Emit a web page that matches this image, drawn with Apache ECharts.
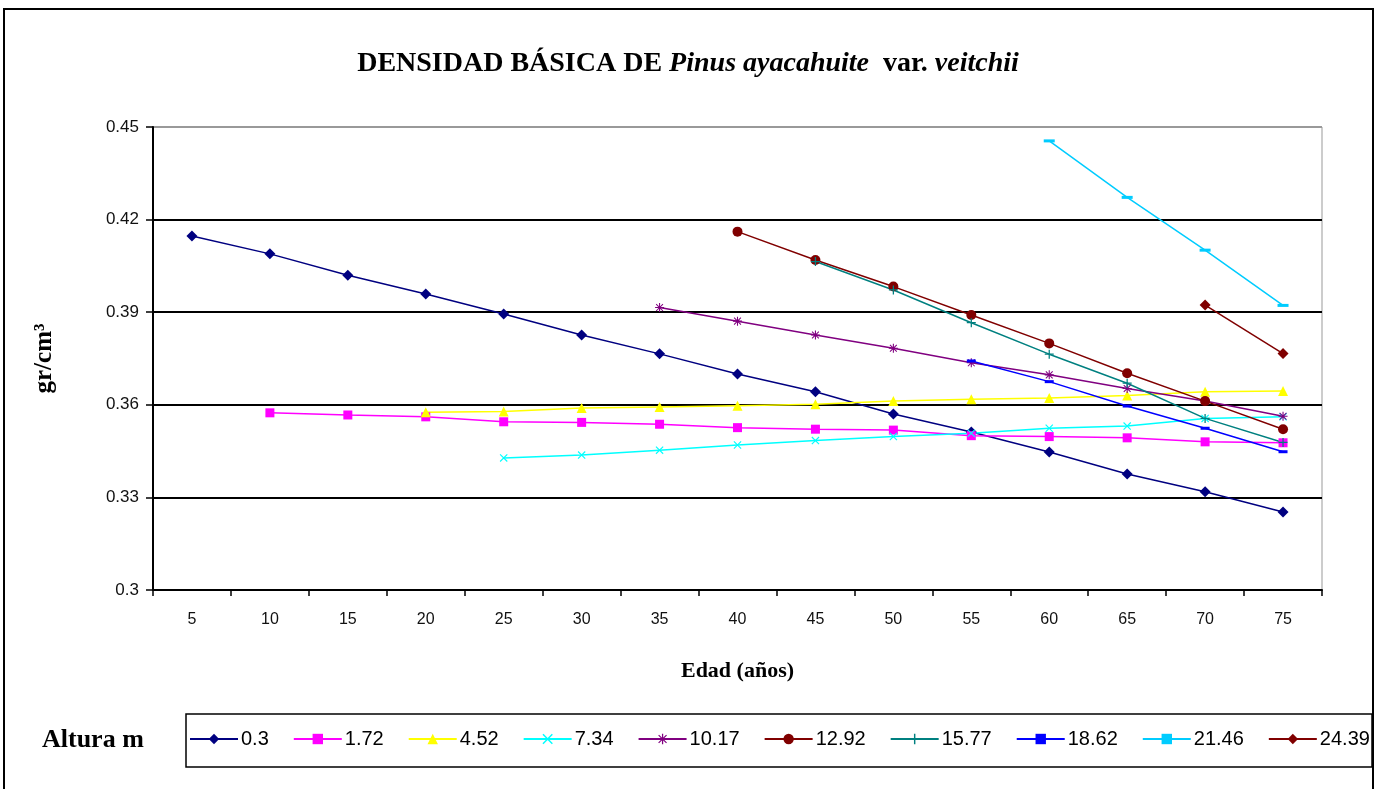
<!DOCTYPE html>
<html>
<head>
<meta charset="utf-8">
<title>Densidad básica de Pinus ayacahuite var. veitchii</title>
<script src="https://cdn.jsdelivr.net/npm/echarts@6/dist/echarts.min.js"></script>
<style>
  html, body { margin: 0; padding: 0; background: #fff; }
  #chart { width: 1376px; height: 789px; }
</style>
</head>
<body>
<div id="chart"></div>
<script>
// Edad (años)
const ages = ['5', '10', '15', '20', '25', '30', '35', '40', '45', '50', '55', '60', '65', '70', '75'];

// Densidad básica (gr/cm3) por altura de muestreo; null = sin dato a esa edad
const h0_30  = [0.4147, 0.4089, 0.4020, 0.3959, 0.3894, 0.3826, 0.3765, 0.3700, 0.3642, 0.3570, 0.3512, 0.3447, 0.3376, 0.3318, 0.3253];
const h1_72  = [null, 0.3574, 0.3567, 0.3561, 0.3545, 0.3543, 0.3537, 0.3526, 0.3521, 0.3518, 0.3500, 0.3497, 0.3493, 0.3480, 0.3477];
const h4_52  = [null, null, null, 0.3576, 0.3578, 0.3590, 0.3593, 0.3597, 0.3602, 0.3612, 0.3618, 0.3622, 0.3630, 0.3642, 0.3645];
const h7_34  = [null, null, null, null, 0.3428, 0.3437, 0.3453, 0.3470, 0.3484, 0.3497, 0.3508, 0.3524, 0.3531, 0.3556, 0.3561];
const h10_17 = [null, null, null, null, null, null, 0.3915, 0.3871, 0.3826, 0.3783, 0.3736, 0.3697, 0.3653, 0.3612, 0.3563];
const h12_92 = [null, null, null, null, null, null, null, 0.4161, 0.4069, 0.3983, 0.3891, 0.3799, 0.3702, 0.3612, 0.3521];
const h15_77 = [null, null, null, null, null, null, null, null, 0.4064, 0.3972, 0.3866, 0.3764, 0.3670, 0.3556, 0.3478];
const h18_62 = [null, null, null, null, null, null, null, null, null, null, 0.3742, 0.3675, 0.3596, 0.3524, 0.3448];
const h21_46 = [null, null, null, null, null, null, null, null, null, null, null, 0.4455, 0.4272, 0.4101, 0.3922];
const h24_39 = [null, null, null, null, null, null, null, null, null, null, null, null, null, 0.3923, 0.3766];

const heightNames = ['0.3', '1.72', '4.52', '7.34', '10.17', '12.92', '15.77', '18.62', '21.46', '24.39'];
const yTicks = [0.3, 0.33, 0.36, 0.39, 0.42, 0.45];

// marker shapes
const SYM_X = 'path://M0,1L1,0L10,9L9,10ZM9,0L10,1L1,10L0,9Z';
const SYM_PLUS = 'path://M4.3,0H5.7V10H4.3ZM0,4.3H10V5.7H0Z';
const SYM_STAR = 'path://M4.4,0H5.6V10H4.4ZM0,4.4H10V5.6H0ZM0.8,1.6L1.6,0.8L9.2,8.4L8.4,9.2ZM8.4,0.8L9.2,1.6L1.6,9.2L0.8,8.4Z';
const SYM_DASH = 'path://M0,0H10V3H0Z';

const seriesDefs = [
  { data: h0_30,  color: '#000080', symbol: 'diamond',  size: 11 },
  { data: h1_72,  color: '#FF00FF', symbol: 'rect',     size: 9 },
  { data: h4_52,  color: '#FFFF00', symbol: 'triangle', size: 10 },
  { data: h7_34,  color: '#00FFFF', symbol: SYM_X,      size: 8 },
  { data: h10_17, color: '#800080', symbol: SYM_STAR,   size: 9 },
  { data: h12_92, color: '#800000', symbol: 'circle',   size: 10 },
  { data: h15_77, color: '#008080', symbol: SYM_PLUS,   size: 9 },
  { data: h18_62, color: '#0000FF', symbol: SYM_DASH,   size: [9, 3] },
  { data: h21_46, color: '#00CCFF', symbol: SYM_DASH,   size: [11, 3] },
  { data: h24_39, color: '#800000', symbol: 'diamond',  size: 11 }
];

const series = seriesDefs.map((d, i) => ({
  name: heightNames[i],
  type: 'line',
  data: d.data,
  symbol: d.symbol,
  symbolSize: d.size,
  showAllSymbol: true,
  connectNulls: false,
  lineStyle: { color: d.color, width: 1.5 },
  itemStyle: { color: d.color, borderWidth: 0 },
  emphasis: { disabled: true },
  animation: false
}));

const chart = echarts.init(document.getElementById('chart'), null, { renderer: 'canvas' });

chart.setOption({
  backgroundColor: '#fff',
  animation: false,
  title: {
    left: 'center',
    top: 45,
    text: '{b|DENSIDAD BÁSICA DE }{i|Pinus ayacahuite}{b|  var. }{i|veitchii}',
    textStyle: {
      rich: {
        b: { fontFamily: 'Liberation Serif', fontWeight: 'bold', fontSize: 28, color: '#000' },
        i: { fontFamily: 'Liberation Serif', fontWeight: 'bold', fontStyle: 'italic', fontSize: 28, color: '#000' }
      }
    }
  },
  grid: {
    left: 153, right: 54, top: 127, bottom: 199,
    show: true, borderColor: '#999', borderWidth: 1, backgroundColor: '#fff'
  },
  legend: {
    left: 189,
    top: 729,
    itemWidth: 48,
    itemHeight: 13,
    itemGap: 24,
    padding: 0,
    data: heightNames,
    textStyle: { fontFamily: 'Liberation Sans', fontSize: 20, color: '#000', padding: [0, 0, 0, -2] },
    selectedMode: false
  },
  xAxis: {
    type: 'category',
    data: ages,
    boundaryGap: true,
    name: 'Edad (años)',
    nameLocation: 'middle',
    nameGap: 70,
    nameTextStyle: { fontFamily: 'Liberation Serif', fontWeight: 'bold', fontSize: 22, color: '#000' },
    axisLine: { lineStyle: { color: '#000', width: 2 } },
    axisTick: { show: true, inside: false, length: 6, lineStyle: { color: '#000', width: 1.5 } },
    axisLabel: { margin: 22, fontFamily: 'Liberation Sans', fontSize: 16, color: '#111' },
    splitLine: { show: false }
  },
  yAxis: {
    type: 'value',
    min: yTicks[0],
    max: yTicks[yTicks.length - 1],
    interval: 0.03,
    name: 'gr/cm³',
    nameLocation: 'middle',
    nameGap: 96,
    nameRotate: 90,
    nameTextStyle: { fontFamily: 'Liberation Serif', fontWeight: 'bold', fontSize: 25, color: '#000' },
    axisLine: { show: true, lineStyle: { color: '#000', width: 2 } },
    axisTick: { show: true, inside: false, length: 7, lineStyle: { color: '#000', width: 1.5 } },
    axisLabel: {
      margin: 14,
      fontFamily: 'Liberation Sans', fontSize: 17, color: '#111',
      formatter: v => String(parseFloat(v.toFixed(2)))
    },
    splitLine: {
      show: true,
      lineStyle: { color: ['#000', '#000', '#000', '#000', '#000', '#999'], width: 2 }
    }
  },
  graphic: [
    {
      type: 'rect', silent: true, z: 100,
      shape: { x: 4, y: 9, width: 1369, height: 800 },
      style: { fill: 'none', stroke: '#000', lineWidth: 2 }
    },
    {
      type: 'rect', silent: true, z: 100,
      shape: { x: 186, y: 714, width: 1186, height: 53 },
      style: { fill: 'none', stroke: '#000', lineWidth: 1.5 }
    },
    {
      type: 'text', silent: true, z: 100,
      left: 42, top: 727,
      style: { text: 'Altura m', fontFamily: 'Liberation Serif', fontWeight: 'bold', fontSize: 26, fill: '#000' }
    }
  ],
  series: series
});
</script>
</body>
</html>
